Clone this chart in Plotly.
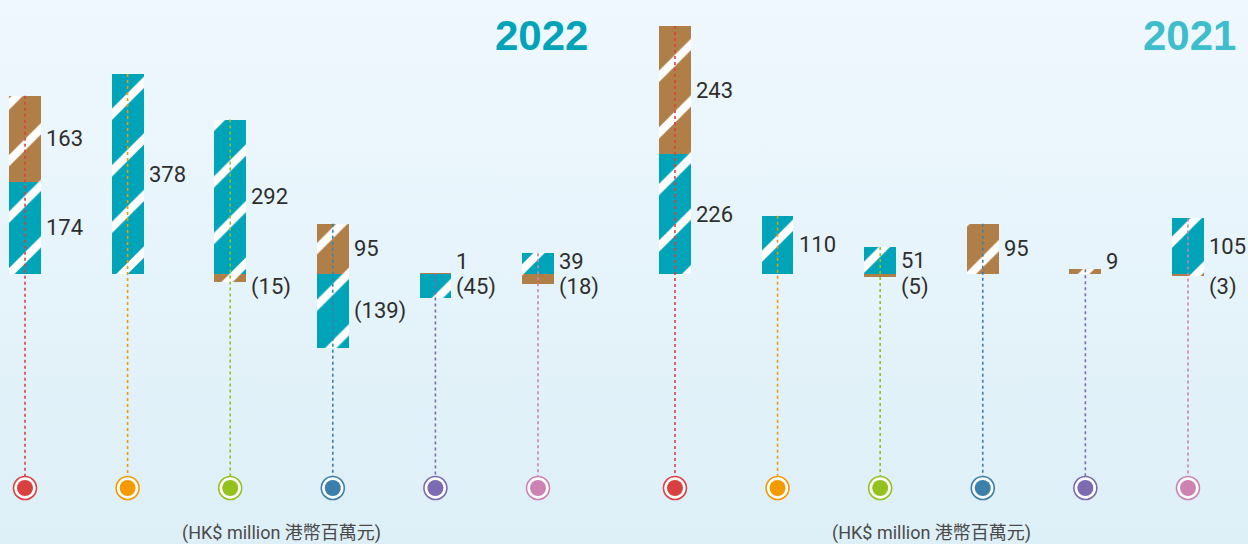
import base64
import plotly.graph_objects as go

# ---------------- data ----------------
years = ["2022", "2021"]
n_cat = 6
teal_2022 = [174, 378, 292, -139, -45, 39]
brown_2022 = [163, 0, -15, 95, 1, -18]
teal_2021 = [226, 110, 51, 0, 0, 105]
brown_2021 = [243, 0, -5, 95, 9, -3]
cat_colors = ["#d94141", "#f39a00", "#93c21e", "#3a80aa", "#7a6bb2", "#cc82b2"]
unit_label = "(HK$ million 港幣百萬元)"

# ---------------- style ----------------
TEAL = "#00a4b9"
BROWN = "#b07f47"
YEAR_COLORS = ["#00a3b8", "#3dbdcd"]
GROUP_GAP = 1.335
BAR_W = 0.31
PX_PER_X = 102.6
W, H = 1248, 544
BASE_PX = 274
PX_PER_UNIT = 0.529
CIRCLE_PX = 488

x_range = [-25 / PX_PER_X, (W - 25) / PX_PER_X]
y_top = BASE_PX / PX_PER_UNIT
y_bot = -(H - BASE_PX) / PX_PER_UNIT
circle_y = -(CIRCLE_PX - BASE_PX) / PX_PER_UNIT

xs = [list(range(n_cat)), [n_cat - 1 + GROUP_GAP + i for i in range(n_cat)]]
teal = [teal_2022, teal_2021]
brown = [brown_2022, brown_2021]

fig = go.Figure()

pattern = dict(shape="/", fgcolor="white", fgopacity=1, size=40, solidity=0.2, fillmode="overlay")
for g in range(2):
    fig.add_bar(x=xs[g], y=teal[g], width=BAR_W, marker=dict(color=TEAL, line_width=0,
                pattern=dict(pattern, bgcolor=TEAL)), hoverinfo="skip", showlegend=False)
for g in range(2):
    fig.add_bar(x=xs[g], y=brown[g], width=BAR_W, marker=dict(color=BROWN, line_width=0,
                pattern=dict(pattern, bgcolor=BROWN)), hoverinfo="skip", showlegend=False)

annotations = []
def fmt(v):
    return f"({-v})" if v < 0 else f"{v}"

for g in range(2):
    for i in range(n_cat):
        x = xs[g][i]
        t, b = teal[g][i], brown[g][i]
        pos_top = max(t, 0) + max(b, 0)
        # dotted stem from stack top to the circle
        fig.add_scatter(x=[x, x], y=[pos_top, circle_y], mode="lines",
                        line=dict(color=cat_colors[i], width=1.6, dash="dot"),
                        hoverinfo="skip", showlegend=False)
        # labels
        segs = []
        pos_acc, neg_acc = 0, 0
        for v in (t, b):
            if v > 0:
                segs.append((v, pos_acc + v / 2)); pos_acc += v
            elif v < 0:
                segs.append((v, neg_acc + v / 2)); neg_acc += v
        for v, mid in segs:
            px = BASE_PX - mid * PX_PER_UNIT
            if v > 0:
                px = min(px, BASE_PX - 13)
            else:
                px = max(px, BASE_PX + 13)
            yv = (BASE_PX - px) / PX_PER_UNIT
            annotations.append(dict(x=x, y=yv, xref="x", yref="y", text=fmt(v),
                                    showarrow=False, xanchor="left", yanchor="middle",
                                    xshift=19, font=dict(size=22, color="#2e2e2e",
                                                         family="Roboto, Liberation Sans, sans-serif")))
    # circles
    fig.add_scatter(x=xs[g], y=[circle_y] * n_cat, mode="markers",
                    marker=dict(size=23, color="white", line=dict(color=cat_colors, width=1.6)),
                    hoverinfo="skip", showlegend=False)
    fig.add_scatter(x=xs[g], y=[circle_y] * n_cat, mode="markers",
                    marker=dict(size=16, color=cat_colors, line=dict(width=0)),
                    hoverinfo="skip", showlegend=False)
    # unit label
    annotations.append(dict(x=(xs[g][0] + xs[g][-1]) / 2, y=(H - 533) / H, xref="x", yref="paper",
                            text=unit_label, showarrow=False, xanchor="center", yanchor="middle",
                            font=dict(size=18, color="#4a4a4a",
                                      family="Roboto, Noto Sans CJK TC, sans-serif")))

# year titles
annotations.append(dict(x=590 / W, y=1 - 35 / H, xref="paper", yref="paper", text="<b>2022</b>",
                        showarrow=False, xanchor="right", yanchor="middle",
                        font=dict(size=42, color=YEAR_COLORS[0], family="Liberation Sans Narrow, Liberation Sans, sans-serif")))
annotations.append(dict(x=1238 / W, y=1 - 35 / H, xref="paper", yref="paper", text="<b>2021</b>",
                        showarrow=False, xanchor="right", yanchor="middle",
                        font=dict(size=42, color=YEAR_COLORS[1], family="Liberation Sans Narrow, Liberation Sans, sans-serif")))

svg = (f'<svg xmlns="http://www.w3.org/2000/svg" width="{W}" height="{H}">'
       '<defs><linearGradient id="g" x1="0" y1="0" x2="0" y2="1">'
       '<stop offset="0" stop-color="#eff8fe"/><stop offset="1" stop-color="#ddeff7"/>'
       '</linearGradient></defs><rect width="100%" height="100%" fill="url(#g)"/></svg>')
bg_src = "data:image/svg+xml;base64," + base64.b64encode(svg.encode()).decode()

fig.update_layout(
    width=W, height=H, barmode="relative", bargap=0,
    margin=dict(l=0, r=0, t=0, b=0),
    paper_bgcolor="#e7f4fa", plot_bgcolor="rgba(0,0,0,0)",
    xaxis=dict(range=x_range, visible=False, fixedrange=True),
    yaxis=dict(range=[y_bot, y_top], visible=False, fixedrange=True),
    annotations=annotations,
    images=[dict(source=bg_src, xref="paper", yref="paper", x=0, y=1, sizex=1, sizey=1,
                 sizing="stretch", layer="below", xanchor="left", yanchor="top")],
)

fig.write_html("out.html", config={"displayModeBar": False},
               post_script="document.body.style.margin='0';document.body.style.overflow='hidden';")
